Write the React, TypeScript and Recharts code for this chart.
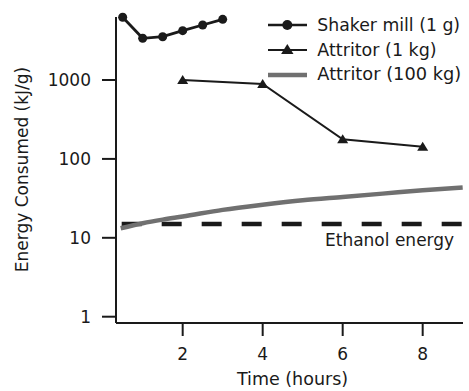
import React from 'react';
import { LineChart, Line, XAxis, YAxis } from 'recharts';

const shakerHours = [0.5, 1, 1.5, 2, 2.5, 3];
const shakerEnergy = [6250, 3380, 3540, 4220, 4980, 5880];
const attritor1Hours = [2, 4, 6, 8];
const attritor1Energy = [1000, 890, 177, 143];
const attritor100Hours = [0.45, 1, 1.5, 2, 3, 4, 5, 6, 7, 8, 9];
const attritor100Energy = [13.2, 15.3, 17.0, 18.6, 22.6, 26.3, 30, 33, 36.3, 40, 43.5];
const ethanolHours = [0.475, 9.0];
const ethanolEnergy = [15, 15];
const xTicks = [2, 4, 6, 8];
const yTicks = [1, 10, 100, 1000];
const seriesNames = ['Shaker mill (1 g)', 'Attritor (1 kg)', 'Attritor (100 kg)'];
const ethanolLabel = 'Ethanol energy';
const xLabel = 'Time (hours)';
const yLabel = 'Energy Consumed (kJ/g)';

const zip = (xs: number[], ys: number[]) => xs.map((x, i) => ({ x, y: ys[i] }));
const shakerData = zip(shakerHours, shakerEnergy);
const attritor1Data = zip(attritor1Hours, attritor1Energy);
const attritor100Data = zip(attritor100Hours, attritor100Energy);
const ethanolData = zip(ethanolHours, ethanolEnergy);

const FONT = 'DejaVu Sans';
const INK = '#1a1a1a';
const GRAY = '#707070';

const Triangle = (props: any) => {
  const { cx, cy, index } = props;
  if (cx == null || cy == null) return <g key={`t-${index}`} />;
  return (
    <polygon
      key={`t-${index}`}
      points={`${cx},${cy - 5} ${cx + 5.5},${cy + 4} ${cx - 5.5},${cy + 4}`}
      fill={INK}
    />
  );
};

export default function App() {
  return (
    <div style={{ position: 'absolute', left: 0, top: 0, width: 469, height: 391, background: '#fff' }}>
      <LineChart
        width={469}
        height={391}
        margin={{ top: 17, right: 6, left: 0, bottom: 0 }}
      >
        <XAxis
          dataKey="x"
          type="number"
          domain={[0.333, 9.008]}
          ticks={xTicks}
          height={68}
          tickSize={13}
          tickMargin={12}
          axisLine={{ stroke: INK, strokeWidth: 2 }}
          tickLine={{ stroke: INK, strokeWidth: 2 }}
          tick={{ fill: INK, fontSize: 17, fontFamily: FONT }}
        />
        <YAxis
          type="number"
          scale="log"
          domain={[0.832, 6290]}
          ticks={yTicks}
          width={116}
          tickSize={14}
          tickMargin={11}
          axisLine={{ stroke: INK, strokeWidth: 2 }}
          tickLine={{ stroke: INK, strokeWidth: 2 }}
          tick={{ fill: INK, fontSize: 17, fontFamily: FONT }}
        />
        <Line
          data={ethanolData}
          dataKey="y"
          type="linear"
          stroke={INK}
          strokeWidth={4.5}
          strokeDasharray="20 20"
          dot={false}
          isAnimationActive={false}
        />
        <Line
          data={attritor100Data}
          dataKey="y"
          type="monotone"
          stroke={GRAY}
          strokeWidth={4.5}
          dot={false}
          isAnimationActive={false}
        />
        <Line
          data={attritor1Data}
          dataKey="y"
          type="linear"
          stroke={INK}
          strokeWidth={2}
          dot={Triangle}
          isAnimationActive={false}
        />
        <Line
          data={shakerData}
          dataKey="y"
          type="linear"
          stroke={INK}
          strokeWidth={2.8}
          dot={{ r: 4.5, fill: INK, stroke: INK, strokeWidth: 0 }}
          isAnimationActive={false}
        />
      </LineChart>
      <svg
        width={469}
        height={391}
        style={{ position: 'absolute', left: 0, top: 0, pointerEvents: 'none' }}
      >
        <g fontFamily={FONT} fill={INK}>
          <line x1={268} y1={25} x2={307} y2={25} stroke={INK} strokeWidth={2.5} />
          <circle cx={287.3} cy={25} r={5} fill={INK} />
          <text x={317.3} y={30.7} fontSize={17.3}>{seriesNames[0]}</text>

          <line x1={268} y1={50} x2={307} y2={50} stroke={INK} strokeWidth={2} />
          <polygon points="287.3,44 293.5,54 281.1,54" fill={INK} />
          <text x={317.3} y={55.7} fontSize={17.5}>{seriesNames[1]}</text>

          <line x1={268} y1={75} x2={307} y2={75} stroke={GRAY} strokeWidth={4.5} />
          <text x={317.3} y={80.3} fontSize={17.8}>{seriesNames[2]}</text>

          <text x={325} y={246} fontSize={17}>{ethanolLabel}</text>

          <text x={292.5} y={385} fontSize={17.5} textAnchor="middle">{xLabel}</text>
          <text
            x={27.5}
            y={169.5}
            fontSize={17}
            textAnchor="middle"
            transform="rotate(-90, 27.5, 169.5)"
          >
            {yLabel}
          </text>
        </g>
      </svg>
    </div>
  );
}
